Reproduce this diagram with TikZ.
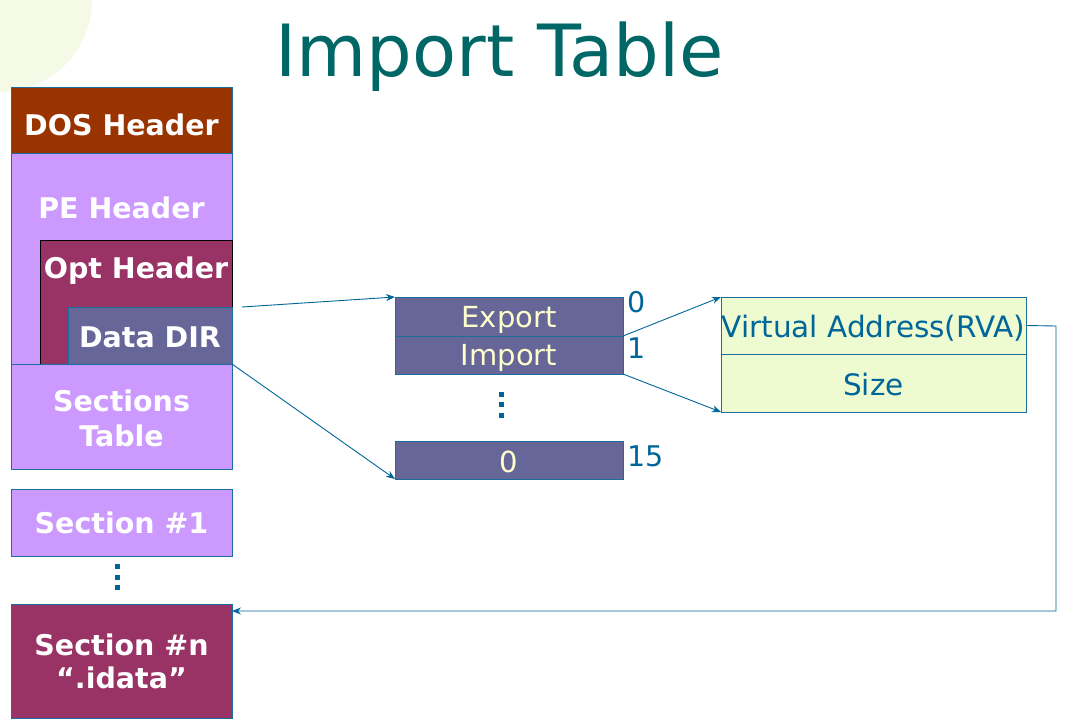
\documentclass[tikz,border=0pt]{standalone}
\usepackage{fontspec}
\setmainfont{DejaVu Sans}
\usetikzlibrary{arrows.meta}
\definecolor{dosbrown}{HTML}{993300}
\definecolor{lav}{HTML}{CC99FF}
\definecolor{plum}{HTML}{993366}
\definecolor{slate}{HTML}{666699}
\definecolor{edge}{HTML}{1A6E9E}
\definecolor{lineblue}{HTML}{006699}
\definecolor{cream}{HTML}{FFFFCC}
\definecolor{pale}{HTML}{EEFACF}
\definecolor{titlec}{HTML}{006666}
\definecolor{faintgreen}{HTML}{F4FAE6}
\tikzset{
  blk/.style={draw=edge, line width=0.8pt, inner sep=0pt, outer sep=0pt, anchor=north west},
  wlabel/.style={text=white, font=\bfseries\fontsize{28.5}{34}\selectfont, inner sep=0pt, anchor=base},
  rowlabel/.style={text=cream, font=\fontsize{29}{32}\selectfont, inner sep=0pt, anchor=base},
  idx/.style={text=lineblue, font=\fontsize{28.5}{32}\selectfont, inner sep=0pt, anchor=base west},
  vlabel/.style={text=lineblue, font=\fontsize{29.5}{32}\selectfont, inner sep=0pt, anchor=base},
  dotsq/.style={fill=lineblue, minimum size=5pt, inner sep=0pt},
  conn/.style={draw=lineblue, line width=0.9pt, -{Stealth[length=9pt,width=7pt]}},
}
\begin{document}
\begin{tikzpicture}[x=1pt,y=-1pt]
\useasboundingbox (0,0) rectangle (1074,726);
% faint background decoration
\fill[faintgreen] (0,0) circle (92);
% title
\node[text=titlec, font=\fontsize{72}{80}\selectfont, inner sep=0pt, anchor=base] (title) at (499.5,76) {Import Table};
% left column
\node[blk, fill=dosbrown, minimum width=221pt, minimum height=66pt] (dos) at (11,87) {};
\node[wlabel] (dost) at (121.5,135) {DOS Header};
\node[blk, fill=lav, minimum width=221pt, minimum height=211pt] (pe) at (11,153) {};
\node[wlabel] (pet) at (121.5,218) {PE Header};
\node[blk, draw=black, fill=plum, minimum width=192pt, minimum height=124pt] (opt) at (40,240) {};
\node[wlabel] (optt) at (136,278) {Opt Header};
\node[blk, fill=slate, minimum width=164pt, minimum height=57pt] (ddir) at (68,307) {};
\node[wlabel] (ddirt) at (150,347) {Data DIR};
\node[blk, fill=lav, minimum width=221pt, minimum height=105pt] (sect) at (11,364) {};
\node[wlabel] (sectt) at (121.5,411) {Sections};
\node[wlabel] (sectt2) at (121.5,446) {Table};
\node[blk, fill=lav, minimum width=221pt, minimum height=67pt] (sec1) at (11,489) {};
\node[wlabel] (sec1t) at (121.5,533) {Section \#1};
\node[dotsq] (ld1) at (117,566) {};
\node[dotsq] (ld2) at (117,577) {};
\node[dotsq] (ld3) at (117,587) {};
\node[blk, fill=plum, minimum width=221pt, minimum height=114pt] (secn) at (11,604) {};
\node[wlabel] (secnt) at (121.5,655) {Section \#n};
\node[wlabel] (secnt2) at (121.5,688) {“.idata”};
% data directory table
\node[blk, fill=slate, minimum width=228pt, minimum height=39pt] (exp) at (395,297) {};
\node[rowlabel] (expt) at (509,327) {Export};
\node[blk, fill=slate, minimum width=228pt, minimum height=38pt] (imp) at (395,336) {};
\node[rowlabel] (impt) at (509,365) {Import};
\node[dotsq] (md1) at (501,394) {};
\node[dotsq] (md2) at (501,404) {};
\node[dotsq] (md3) at (501,415) {};
\node[blk, fill=slate, minimum width=228pt, minimum height=38pt] (zero) at (395,441) {};
\node[rowlabel] (zerot) at (509,472) {0};
\node[idx] (i0) at (627,312) {0};
\node[idx] (i1) at (627,358) {1};
\node[idx] (i15) at (627,466) {15};
% entry box
\node[blk, fill=pale, minimum width=305pt, minimum height=57pt] (va) at (721,297) {};
\node[vlabel] (vat) at (873.5,337) {Virtual Address(RVA)};
\node[blk, fill=pale, minimum width=305pt, minimum height=58pt] (size) at (721,354) {};
\node[vlabel] (sizet) at (873.5,395) {Size};
% connectors
\draw[conn] ([xshift=10pt]ddir.north east) -- (exp.north west);
\draw[conn] (ddir.south east) -- (zero.south west);
\draw[conn] (exp.south east) -- (va.north west);
\draw[conn] (imp.south east) -- (size.south west);
\coordinate (turn) at (1056,326);
\draw[conn] (va.east) -- (turn) |- ([yshift=-7pt]secn.north east);
\end{tikzpicture}
\end{document}
